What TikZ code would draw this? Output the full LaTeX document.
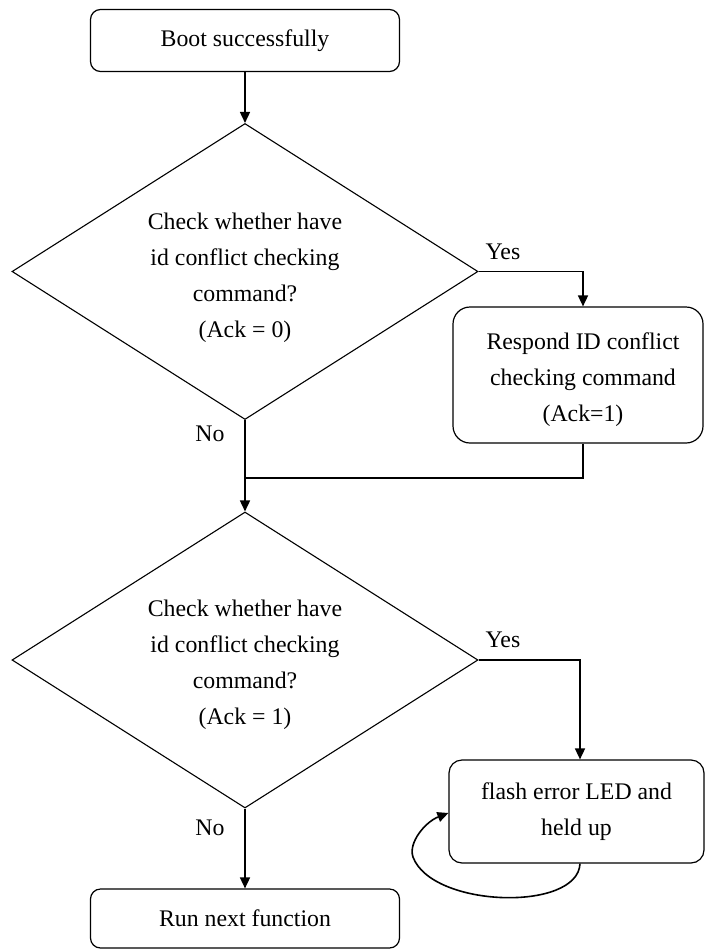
\documentclass[tikz,border=0pt]{standalone}
\usepackage{fontspec}
\setmainfont{Liberation Serif}
\usetikzlibrary{shapes.geometric,arrows.meta}
\begin{document}
\begin{tikzpicture}[x=1pt,y=-1pt,
  font=\fontsize{23.8}{36}\selectfont,
  >={Triangle[length=11pt,width=10pt]},
  proc/.style={draw, line width=1.2pt, rounded corners=10pt, align=center, inner sep=0pt},
  dec/.style={draw, line width=1.1pt, diamond, aspect=1.57, minimum width=466pt, minimum height=296pt, inner sep=0pt},
  txt/.style={align=center, inner sep=0pt},
  conn/.style={line width=1.6pt, ->},
  link/.style={line width=1.6pt},
  lbl/.style={inner sep=0pt}]
\useasboundingbox (0,0) rectangle (705,950);
\node[proc, minimum width=309pt, minimum height=62pt] (boot) at (245,40.5) {Boot successfully};
\node[dec] (d1) at (245,271.5) {};
\node[txt] (d1t) at (245,277.5) {Check whether have\\id conflict checking\\command?\\(Ack = 0)};
\node[proc, rounded corners=17pt, minimum width=250pt, minimum height=136pt] (r1) at (578,375) {};
\node[txt] (r1t) at (583,380) {Respond ID conflict\\checking command\\(Ack=1)};
\node[dec] (d2) at (245,660) {};
\node[txt] (d2t) at (245,665) {Check whether have\\id conflict checking\\command?\\(Ack = 1)};
\node[proc, rounded corners=13pt, minimum width=255pt, minimum height=103pt] (fl) at (576.5,811.5) {flash error LED and\\held up};
\node[proc, minimum width=309pt, minimum height=59pt] (run) at (245,918.5) {Run next function};
\coordinate (m) at (245,478);
\node[lbl] (y1) at (503,252) {Yes};
\node[lbl] (n1) at (210,434) {No};
\node[lbl] (y2) at (503,640) {Yes};
\node[lbl] (n2) at (210,828) {No};
\draw[conn] (boot.south) -- (d1.north);
\draw[conn] (d1.east) -| ([xshift=5pt]r1.north);
\draw[conn] (d1.south) -- (d2.north);
\draw[link] ([xshift=5pt]r1.south) |- (m);
\draw[conn] (d2.east) -| ([xshift=3.5pt]fl.north);
\draw[conn] (d2.south) -- (run.north);
\draw[conn] ([xshift=3.5pt]fl.south) .. controls (578,912) and (432,908) .. (413,857) .. controls (408,843) and (425,822) .. ([yshift=-1.5pt]fl.west);
\end{tikzpicture}
\end{document}
